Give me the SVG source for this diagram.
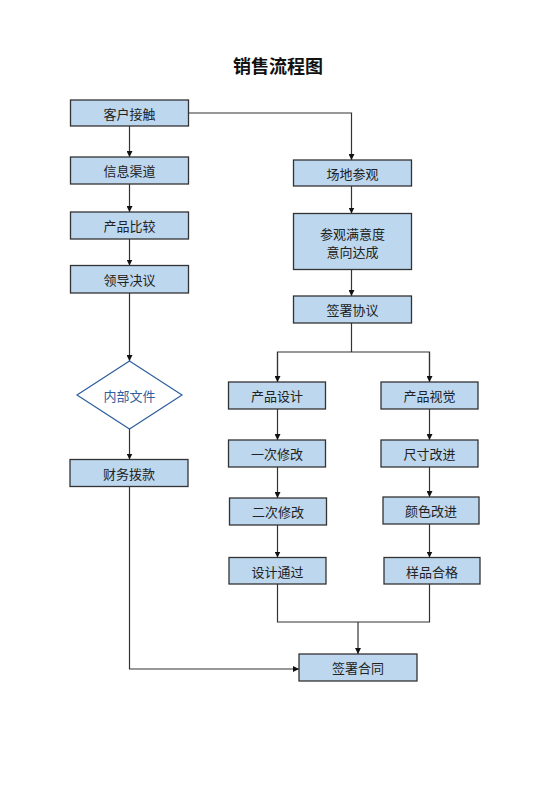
<svg xmlns="http://www.w3.org/2000/svg" width="560" height="792" viewBox="0 0 560 792">
<style>
.n{fill:#bdd7ee;stroke:#333;stroke-width:1.3}
.t{font-family:"Noto Sans CJK SC","Liberation Sans",sans-serif;font-size:13px;fill:#222;text-anchor:middle;dominant-baseline:central}
.c{fill:none;stroke:#333;stroke-width:1.2}
.d{fill:#fff;stroke:#2e5f9e;stroke-width:1.2}
</style>
<defs>
<marker id="a" viewBox="0 0 10 10" refX="10" refY="5" markerWidth="6" markerHeight="6" markerUnits="userSpaceOnUse" orient="auto">
<path d="M0,0L10,5L0,10z" fill="#111"/>
</marker>
</defs>
<rect width="560" height="792" fill="#fff"/>
<text x="278" y="65" font-family="'Noto Sans CJK SC',sans-serif" font-size="18" font-weight="bold" text-anchor="middle" dominant-baseline="central" fill="#111">销售流程图</text>
<g id="connectors">
<path class="c" d="M129.5,126V157" marker-end="url(#a)"/>
<path class="c" d="M129.5,184V212" marker-end="url(#a)"/>
<path class="c" d="M129.5,239V265.5" marker-end="url(#a)"/>
<path class="c" d="M129.5,293V361" marker-end="url(#a)"/>
<path class="c" d="M129.5,429V459.5" marker-end="url(#a)"/>
<path class="c" d="M129.5,487V669H299" marker-end="url(#a)"/>
<path class="c" d="M188,113H351.5V160" marker-end="url(#a)"/>
<path class="c" d="M351.5,186V213.5" marker-end="url(#a)"/>
<path class="c" d="M351.5,269.5V296" marker-end="url(#a)"/>
<path class="c" d="M351.5,323V352" />
<path class="c" d="M277.5,382V352H429.5V382" />
<path class="c" d="M277.5,352V382" marker-end="url(#a)"/>
<path class="c" d="M429.5,352V382" marker-end="url(#a)"/>
<path class="c" d="M277.5,409V440" marker-end="url(#a)"/>
<path class="c" d="M429.5,409V440" marker-end="url(#a)"/>
<path class="c" d="M277.5,467V498" marker-end="url(#a)"/>
<path class="c" d="M429.5,467V497" marker-end="url(#a)"/>
<path class="c" d="M277.5,525V557.5" marker-end="url(#a)"/>
<path class="c" d="M429.5,524V557.5" marker-end="url(#a)"/>
<path class="c" d="M277.5,584V622H429.5V584" />
<path class="c" d="M358,622V654" marker-end="url(#a)"/>
</g>
<g id="n1"><rect class="n" x="70.5" y="100" width="118" height="26"/><text class="t" x="129.5" y="113">客户接触</text></g>
<g id="n2"><rect class="n" x="70.5" y="157" width="118" height="27"/><text class="t" x="129.5" y="170.5">信息渠道</text></g>
<g id="n3"><rect class="n" x="70.5" y="212" width="118" height="27"/><text class="t" x="129.5" y="225.5">产品比较</text></g>
<g id="n4"><rect class="n" x="70.5" y="265.5" width="118" height="27.5"/><text class="t" x="129.5" y="279">领导决议</text></g>
<g id="n5"><path class="d" d="M129.5,361L182,395L129.5,429L77,395Z"/><text class="t" x="129.5" y="395" style="fill:#2e5f9e">内部文件</text></g>
<g id="n6"><rect class="n" x="70" y="459.5" width="118" height="27"/><text class="t" x="129" y="473">财务拨款</text></g>
<g id="n7"><rect class="n" x="293.5" y="160" width="118" height="26"/><text class="t" x="352.5" y="173">场地参观</text></g>
<g id="n8"><rect class="n" x="293.5" y="213.5" width="118" height="56"/><text class="t" x="352.5" y="233">参观满意度</text><text class="t" x="352.5" y="251">意向达成</text></g>
<g id="n9"><rect class="n" x="293.5" y="296" width="118" height="27"/><text class="t" x="352.5" y="309.5">签署协议</text></g>
<g id="n10"><rect class="n" x="228.5" y="382" width="97" height="27"/><text class="t" x="277" y="395.5">产品设计</text></g>
<g id="n11"><rect class="n" x="381" y="382" width="97" height="27"/><text class="t" x="429.5" y="395.5">产品视觉</text></g>
<g id="n12"><rect class="n" x="228.5" y="440" width="97" height="27"/><text class="t" x="277" y="453.5">一次修改</text></g>
<g id="n13"><rect class="n" x="381" y="440" width="97" height="27"/><text class="t" x="429.5" y="453.5">尺寸改进</text></g>
<g id="n14"><rect class="n" x="229.5" y="498" width="97" height="27"/><text class="t" x="278" y="511.5">二次修改</text></g>
<g id="n15"><rect class="n" x="383" y="497" width="96" height="27"/><text class="t" x="431" y="510.5">颜色改进</text></g>
<g id="n16"><rect class="n" x="229" y="557.5" width="97" height="26.5"/><text class="t" x="277.5" y="571">设计通过</text></g>
<g id="n17"><rect class="n" x="384" y="557.5" width="96" height="26.5"/><text class="t" x="432" y="571">样品合格</text></g>
<g id="n18"><rect class="n" x="299" y="654" width="118" height="27"/><text class="t" x="358" y="667.5">签署合同</text></g>
</svg>
